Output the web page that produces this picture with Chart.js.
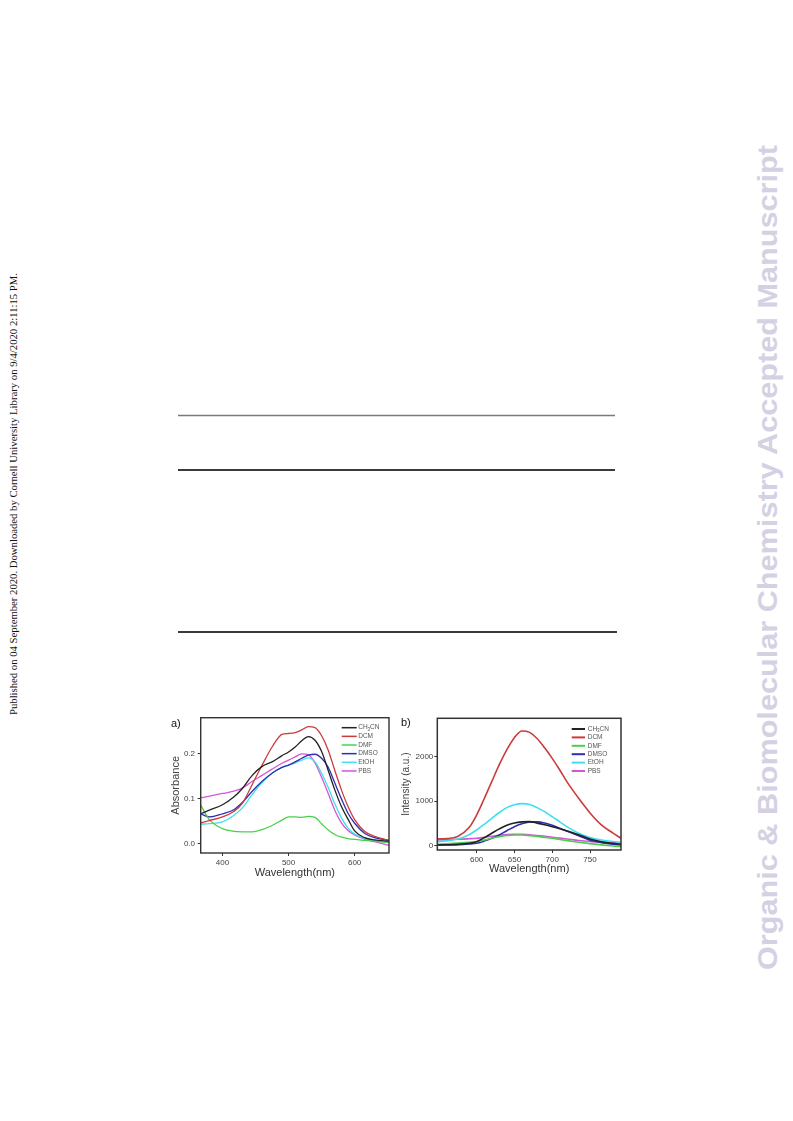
<!DOCTYPE html>
<html>
<head>
<meta charset="utf-8">
<script src="https://cdn.jsdelivr.net/npm/chart.js@4/dist/chart.umd.min.js"></script>
<style>
html, body { margin: 0; padding: 0; background: #fff; }
body { width: 793px; height: 1121px; position: relative; overflow: hidden; font-family: "Liberation Sans", Arial, sans-serif; }
#page { position: absolute; left: 0; top: 0; }
canvas { position: absolute; }
.tag { position: absolute; font-size: 11px; line-height: 12px; color: #111; }
</style>
</head>
<body>
<svg id="page" width="793" height="1121">
  <text transform="translate(17,715) rotate(-90)" font-family="Liberation Serif" font-size="11" fill="#111" textLength="442" lengthAdjust="spacingAndGlyphs">Published on 04 September 2020. Downloaded by Cornell University Library on 9/4/2020 2:11:15 PM.</text>
  <text transform="translate(777,970) rotate(-90)" font-family="Liberation Sans" font-weight="bold" font-size="28" fill="#d4d1e3" textLength="825" lengthAdjust="spacingAndGlyphs">Organic &amp; Biomolecular Chemistry Accepted Manuscript</text>
  <line x1="178" y1="415.5" x2="615" y2="415.5" stroke="#7a7a7a" stroke-width="1.5"/>
  <line x1="178" y1="470" x2="615" y2="470" stroke="#3a3a3a" stroke-width="1.8"/>
  <line x1="178" y1="632" x2="617" y2="632" stroke="#3a3a3a" stroke-width="1.8"/>
</svg>
<canvas id="absChart" width="235" height="180" style="left:160px;top:705px"></canvas>
<canvas id="emChart" width="235" height="180" style="left:395px;top:705px"></canvas>
<div class="tag" style="left:171px;top:717px">a)</div>
<div class="tag" style="left:401px;top:716px">b)</div>
<script>
'use strict';

// solvents and their line colours
const solvents = ['CH3CN', 'DCM', 'DMF', 'DMSO', 'EtOH', 'PBS'];
const lineColors = ['#222222', '#cc3b3b', '#4ccf4c', '#2e2eb0', '#3ee0ee', '#d455d8'];

// a) absorption spectra
const absWavelength = [367, 380, 400, 417, 430, 445, 460, 475, 490, 500, 510, 520, 530, 540, 550, 560, 570, 580, 590, 600, 615, 630, 652];
const absCH3CN = [0.067, 0.075, 0.087, 0.104, 0.123, 0.152, 0.172, 0.182, 0.196, 0.204, 0.215, 0.229, 0.238, 0.230, 0.205, 0.163, 0.120, 0.083, 0.055, 0.029, 0.014, 0.009, 0.006];
const absDCM = [0.047, 0.052, 0.060, 0.072, 0.090, 0.132, 0.175, 0.215, 0.243, 0.245, 0.247, 0.253, 0.260, 0.258, 0.240, 0.208, 0.163, 0.120, 0.083, 0.054, 0.028, 0.017, 0.008];
const absDMF = [0.086, 0.054, 0.034, 0.028, 0.027, 0.027, 0.032, 0.041, 0.053, 0.060, 0.060, 0.059, 0.061, 0.059, 0.045, 0.031, 0.021, 0.015, 0.012, 0.010, 0.008, 0.006, 0.003];
const absDMSO = [0.067, 0.060, 0.067, 0.076, 0.092, 0.117, 0.139, 0.157, 0.170, 0.175, 0.182, 0.190, 0.197, 0.199, 0.190, 0.170, 0.135, 0.100, 0.068, 0.046, 0.024, 0.014, 0.008];
const absEtOH = [0.044, 0.045, 0.049, 0.063, 0.080, 0.110, 0.137, 0.157, 0.170, 0.175, 0.180, 0.186, 0.191, 0.182, 0.157, 0.125, 0.089, 0.058, 0.035, 0.022, 0.012, 0.008, 0.004];
const absPBS = [0.102, 0.106, 0.112, 0.117, 0.124, 0.139, 0.152, 0.166, 0.179, 0.186, 0.193, 0.200, 0.198, 0.180, 0.148, 0.112, 0.075, 0.047, 0.030, 0.020, 0.011, 0.005, -0.003];
const absTicksX = [400, 500, 600];
const absTicksY = [0, 0.1, 0.2];

// b) emission spectra
const emWavelength = [548, 560, 575, 590, 600, 610, 620, 630, 640, 650, 660, 670, 680, 690, 700, 710, 720, 735, 750, 765, 780, 791];
const emCH3CN = [8, 12, 20, 45, 83, 170, 271, 370, 455, 505, 528, 534, 500, 462, 420, 375, 325, 240, 140, 80, 45, 23];
const emDCM = [143, 150, 200, 400, 684, 1050, 1436, 1820, 2160, 2430, 2580, 2550, 2410, 2200, 1962, 1700, 1420, 1060, 730, 460, 280, 160];
const emDMF = [23, 35, 50, 68, 83, 120, 160, 195, 220, 233, 232, 218, 200, 180, 158, 130, 105, 70, 38, 10, -15, -30];
const emDMSO = [8, 10, 15, 30, 45, 95, 158, 235, 330, 420, 485, 528, 530, 505, 455, 385, 315, 215, 115, 60, 25, 8];
const emEtOH = [83, 100, 140, 240, 346, 475, 609, 740, 850, 915, 940, 920, 850, 760, 647, 530, 415, 270, 175, 120, 85, 68];
const emPBS = [120, 128, 135, 148, 158, 180, 203, 225, 242, 250, 248, 238, 220, 203, 182, 163, 143, 110, 85, 68, 55, 45];
const emTicksX = [600, 650, 700, 750];
const emTicksY = [0, 1000, 2000];

Chart.defaults.font.family = '"Liberation Sans", Arial, sans-serif';

// label with digits drawn as subscripts (CH3CN)
const drawLabel = function (ctx, text, x, y, size) {
    const parts = text.split(/(\d+)/);
    parts.forEach(function (p) {
        if (!p) return;
        const sub = /^\d+$/.test(p);
        ctx.font = (sub ? size * 0.7 : size) + 'px "Liberation Sans", Arial, sans-serif';
        ctx.fillText(p, x, sub ? y + size * 0.3 : y);
        x += ctx.measureText(p).width;
    });
};

// box round the plot and the small key in its corner
const frameAndKey = {
    id: 'frameAndKey',
    afterDatasetsDraw(chart, args, opts) {
        const ctx = chart.ctx;
        const a = chart.chartArea;
        ctx.save();
        ctx.strokeStyle = opts.frameColor;
        ctx.lineWidth = opts.frameWidth;
        ctx.strokeRect(a.left, a.top, a.right - a.left, a.bottom - a.top);
        ctx.textBaseline = 'middle';
        ctx.fillStyle = '#555';
        chart.data.datasets.forEach(function (ds, i) {
            const y = a.top + opts.keyTop + i * opts.keyStep;
            const x0 = a.right - opts.keyRight;
            ctx.strokeStyle = ds.borderColor;
            ctx.lineWidth = opts.keyWidth;
            ctx.beginPath();
            ctx.moveTo(x0, y);
            ctx.lineTo(x0 + opts.keyLen, y);
            ctx.stroke();
            drawLabel(ctx, ds.label, x0 + opts.keyLen + opts.keyGap, y, opts.keySize);
        });
        ctx.restore();
    }
};

const makeDatasets = function (xs, series, width) {
    return series.map(function (ys, i) {
        return {
            label: solvents[i],
            data: xs.map(function (x, j) { return { x: x, y: ys[j] }; }),
            borderColor: lineColors[i],
            borderWidth: width,
            pointRadius: 0,
            cubicInterpolationMode: 'monotone',
            fill: false
        };
    });
};

const absChart = new Chart(document.getElementById('absChart'), {
    type: 'line',
    data: {
        datasets: makeDatasets(absWavelength, [absCH3CN, absDCM, absDMF, absDMSO, absEtOH, absPBS], 1.3)
    },
    options: {
        responsive: false,
        animation: false,
        devicePixelRatio: 1,
        layout: { padding: { top: 12.7, right: 6, left: 0, bottom: 0 } },
        plugins: {
            legend: { display: false },
            tooltip: { enabled: false },
            frameAndKey: {
                frameColor: '#333', frameWidth: 1.4,
                keyTop: 10, keyStep: 8.65, keyRight: 47.3, keyLen: 15, keyGap: 1.5,
                keyWidth: 1.5, keySize: 6.5
            }
        },
        scales: {
            x: {
                type: 'linear',
                min: 367,
                max: 652,
                afterFit: function (s) { s.height = 32; },
                afterBuildTicks: function (s) { s.ticks = absTicksX.map(function (v) { return { value: v }; }); },
                grid: { drawOnChartArea: false, tickLength: 3, color: '#333' },
                border: { display: false },
                ticks: { font: { size: 8 }, color: '#444', padding: 2, maxRotation: 0 },
                title: { display: true, text: 'Wavelength(nm)', font: { size: 11 }, color: '#333', padding: { top: 0, bottom: 5.4 } }
            },
            y: {
                min: -0.02,
                max: 0.28,
                afterFit: function (s) { s.width = 40.7; },
                afterBuildTicks: function (s) { s.ticks = absTicksY.map(function (v) { return { value: v }; }); },
                grid: { drawOnChartArea: false, tickLength: 3, color: '#333' },
                border: { display: false },
                ticks: { font: { size: 8 }, color: '#444', padding: 2.7, callback: function (v) { return v.toFixed(1); } },
                title: { display: true, text: 'Absorbance', font: { size: 11 }, color: '#444', padding: { top: 9.4, bottom: 0 } }
            }
        }
    },
    plugins: [frameAndKey]
});

const emChart = new Chart(document.getElementById('emChart'), {
    type: 'line',
    data: {
        datasets: makeDatasets(emWavelength, [emCH3CN, emDCM, emDMF, emDMSO, emEtOH, emPBS], 1.6)
    },
    options: {
        responsive: false,
        animation: false,
        devicePixelRatio: 1,
        layout: { padding: { top: 13.3, right: 9, left: 0, bottom: 0 } },
        plugins: {
            legend: { display: false },
            tooltip: { enabled: false },
            frameAndKey: {
                frameColor: '#333', frameWidth: 1.5,
                keyTop: 10.7, keyStep: 8.4, keyRight: 49.3, keyLen: 13.3, keyGap: 2.7,
                keyWidth: 2, keySize: 6.5
            }
        },
        scales: {
            x: {
                type: 'linear',
                min: 548,
                max: 791,
                afterFit: function (s) { s.height = 35; },
                afterBuildTicks: function (s) { s.ticks = emTicksX.map(function (v) { return { value: v }; }); },
                grid: { drawOnChartArea: false, tickLength: 3, color: '#333' },
                border: { display: false },
                ticks: { font: { size: 8 }, color: '#444', padding: 2, maxRotation: 0 },
                title: { display: true, text: 'Wavelength(nm)', font: { size: 11 }, color: '#333', padding: { top: 0, bottom: 9.4 } }
            },
            y: {
                min: -106,
                max: 2867,
                afterFit: function (s) { s.width = 42.3; },
                afterBuildTicks: function (s) { s.ticks = emTicksY.map(function (v) { return { value: v }; }); },
                grid: { drawOnChartArea: false, tickLength: 3, color: '#333' },
                border: { display: false },
                ticks: { font: { size: 8 }, color: '#444', padding: 1, callback: function (v) { return String(v); } },
                title: { display: true, text: 'Intensity (a.u.)', font: { size: 10 }, color: '#444', padding: { top: 5.7, bottom: 0 } }
            }
        }
    },
    plugins: [frameAndKey]
});
</script>
</body>
</html>
